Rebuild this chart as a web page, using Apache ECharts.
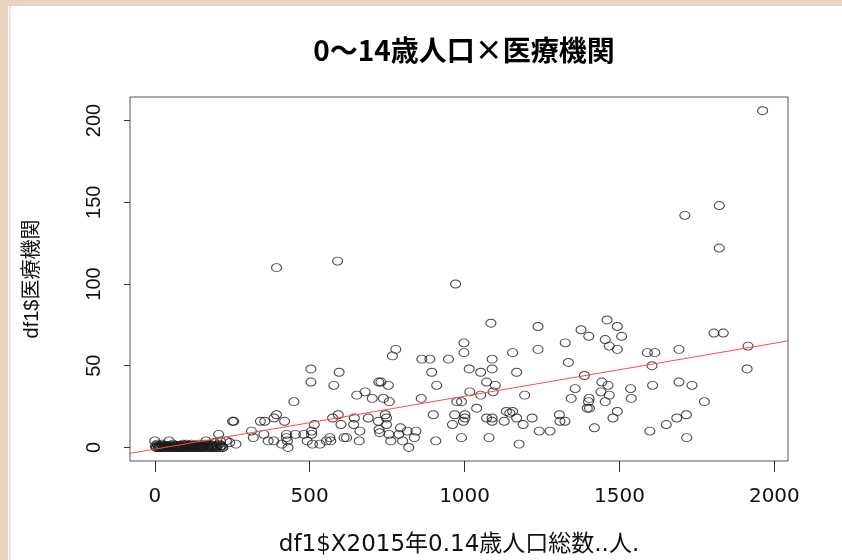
<!DOCTYPE html>
<html>
<head>
<meta charset="utf-8">
<script src="https://cdn.jsdelivr.net/npm/echarts@6/dist/echarts.min.js"></script>
<style>
  html, body { margin: 0; padding: 0; background: #fff; }
  #main { width: 842px; height: 560px; }
</style>
</head>
<body>
<div id="main"></div>
<script>
// 0-14歳人口 (x) と 医療機関数 (y)
var nearZero = [
  [0,4],[2,1],[4,0],[6,0],[8,2],[10,1],[12,0],[14,0],[16,1],[18,0],[20,0],[23,2],[25,1],[27,0],
  [29,0],[31,1],[33,0],[36,1],[38,0],[40,1],[43,0],[46,4],[47,0],[49,1],[51,0],[53,1],[55,0],
  [57,0],[59,2],[61,1],[63,0],[65,0],[67,1],[69,0],[71,1],[73,0],[75,0],[77,1],[79,0],[81,1],
  [83,0],[85,1],[87,0],[89,0],[91,2],[93,1],[95,0],[97,0],[100,1],[102,2],[104,0],[105,1],
  [107,0],[109,0],[111,1],[113,1],[115,0],[118,2],[120,0],[121,1],[123,0],[125,1],[127,0],
  [129,0],[131,1],[133,1],[135,0],[137,0],[139,1],[141,2],[143,0],[145,1],[147,0],[149,0],
  [151,1],[154,1],[156,0],[158,0],[160,1],[162,2],[165,4],[167,0],[170,1],[172,0],[174,0],
  [176,1],[178,2],[181,0],[183,1],[185,0],[187,0],[190,1],[192,3],[194,0],[196,1],[198,0],
  [200,0],[202,1],[206,8],[208,2],[210,0],[212,4],[214,1],[216,1],[218,0],[220,0],[231,4],
  [242,3],[262,2],[251,16],[255,16]
];
var lowRange = [
  [312,10],[318,6],[341,16],[352,8],[355,16],[366,4],[384,4],[385,18],[393,20],[410,2],[419,16],
  [425,8],[425,6],[428,4],[430,0],[449,28],[454,8],[481,8],[492,4],[504,48],[504,40],[506,10],
  [506,8],[509,2],[515,14],[533,2],[554,4],[565,6],[568,4],[574,18],[578,38],[592,20],[595,46],
  [601,14],[611,6],[619,6],[642,14],[644,18],[652,32],[660,4],[662,10],[679,34],[689,18],[702,30],
  [722,16],[723,40],[724,11],[726,9],[730,40],[738,30],[744,20],[748,18],[748,14],[754,38],[756,8],
  [757,28],[762,4],[767,56],[778,60],[788,8],[793,12],[800,4],[815,10],[820,0],[838,6],[843,10],
  [860,30],[862,54],[888,54],[894,46],[899,20],[907,4],[910,38],[948,54],[961,14],[968,20],[975,28],
  [990,28],[990,6],[996,16],[998,64],[998,58],[1001,20],[1001,18]
];
var highRange = [
  [1015,48],[1017,34],[1039,24],[1052,46],[1052,32],[1071,40],[1071,18],[1079,6],[1085,76],[1089,54],
  [1089,48],[1089,18],[1089,16],[1092,34],[1099,38],[1128,16],[1135,22],[1146,21],[1155,22],[1155,58],
  [1168,46],[1168,18],[1176,2],[1189,14],[1194,32],[1218,18],[1237,74],[1237,60],[1241,10],[1276,10],
  [1306,20],[1308,16],[1324,16],[1325,64],[1335,52],[1344,30],[1357,36],[1376,72],[1387,44],[1396,24],
  [1401,68],[1402,30],[1400,28],[1403,24],[1419,12],[1440,34],[1443,40],[1454,66],[1454,28],[1460,78],
  [1463,38],[1467,62],[1467,32],[1479,18],[1493,74],[1493,60],[1493,22],[1507,68],[1536,36],[1538,30],
  [1590,58],[1598,10],[1605,50],[1607,38],[1614,58],[1651,14],[1685,18],[1692,60],[1692,40],[1716,20],
  [1717,6],[1734,38],[1774,28],[1805,70],[1835,70],[1912,48],[1915,62]
];
var outliers = [[393,110],[590,114],[971,100],[1711,142],[1822,148],[1822,122],[1962,206]];

var xTicks = [0, 500, 1000, 1500, 2000];
var yTicks = [0, 50, 100, 150, 200];

// abline(lm(...)) の係数
var intercept = -1.06;
var slope = 0.0324;

var xMin = -80, xMax = 2044;
var yMin = -8.3, yMax = 214.4;

var points = nearZero.concat(lowRange, highRange, outliers);
var fitLine = [[xMin, intercept + slope * xMin], [xMax, intercept + slope * xMax]];

var chart = echarts.init(document.getElementById('main'), null, { renderer: 'canvas' });
var option = {
  backgroundColor: '#ffffff',
  animation: false,
  title: {
    text: '0～14歳人口×医療機関',
    left: 459,
    top: 31,
    textAlign: 'center',
    textStyle: {
      fontFamily: 'Noto Sans CJK JP',
      fontWeight: 'bold',
      fontSize: 28,
      color: '#000'
    }
  },
  graphic: [
    { type: 'rect', left: 0, top: 0, shape: { width: 842, height: 6 }, style: { fill: '#e8d5c1' }, silent: true },
    { type: 'rect', left: 0, top: 0, shape: { width: 8, height: 560 }, style: { fill: '#e8d5c1' }, silent: true },
    { type: 'line', shape: { x1: 10, y1: 6, x2: 10, y2: 560 }, style: { stroke: '#d4d4d4', lineWidth: 1 }, silent: true }
  ],
  grid: {
    left: 130,
    right: 54,
    top: 97,
    bottom: 99,
    show: true,
    borderColor: '#555',
    borderWidth: 1,
    backgroundColor: 'transparent',
    containLabel: false,
    outerBoundsMode: 'none'
  },
  xAxis: {
    type: 'value',
    min: xMin,
    max: xMax,
    name: 'df1$X2015年0.14歳人口総数..人.',
    nameLocation: 'middle',
    nameGap: 73,
    nameTextStyle: { fontFamily: 'DejaVu Sans, Noto Sans CJK JP', fontSize: 23, color: '#111' },
    axisLine: { show: false, onZero: false },
    splitLine: { show: false },
    axisTick: { show: true, length: 11, customValues: xTicks, lineStyle: { color: '#333' } },
    axisLabel: {
      customValues: xTicks, margin: 26, fontFamily: 'DejaVu Sans', fontSize: 20, color: '#111',
      formatter: function (v) { return String(v); }
    }
  },
  yAxis: {
    type: 'value',
    min: yMin,
    max: yMax,
    name: 'df1$医療機関',
    nameLocation: 'middle',
    nameGap: 88,
    nameRotate: 90,
    nameTextStyle: { fontFamily: 'Liberation Sans, Noto Sans CJK JP', fontSize: 20, color: '#111' },
    axisLine: { show: false, onZero: false },
    splitLine: { show: false },
    axisTick: { show: true, length: 6, customValues: yTicks, lineStyle: { color: '#333' } },
    axisLabel: {
      customValues: yTicks, rotate: 90, margin: 26, fontFamily: 'Liberation Sans', fontSize: 20, color: '#111',
      formatter: function (v) { return String(v); }
    }
  },
  series: [
    {
      type: 'scatter',
      data: points,
      symbol: 'path://M0,1A1,1 0 1,1 2,1A1,1 0 1,1 0,1Z',
      symbolSize: [10, 8],
      itemStyle: { color: 'rgba(0,0,0,0)', borderColor: '#1a1a1a', borderWidth: 1 },
      emphasis: { disabled: true },
      silent: true
    },
    {
      type: 'line',
      data: fitLine,
      showSymbol: false,
      symbol: 'none',
      lineStyle: { color: '#ff4a4a', width: 1 },
      silent: true,
      z: 3
    }
  ]
};
chart.setOption(option);
</script>
</body>
</html>
